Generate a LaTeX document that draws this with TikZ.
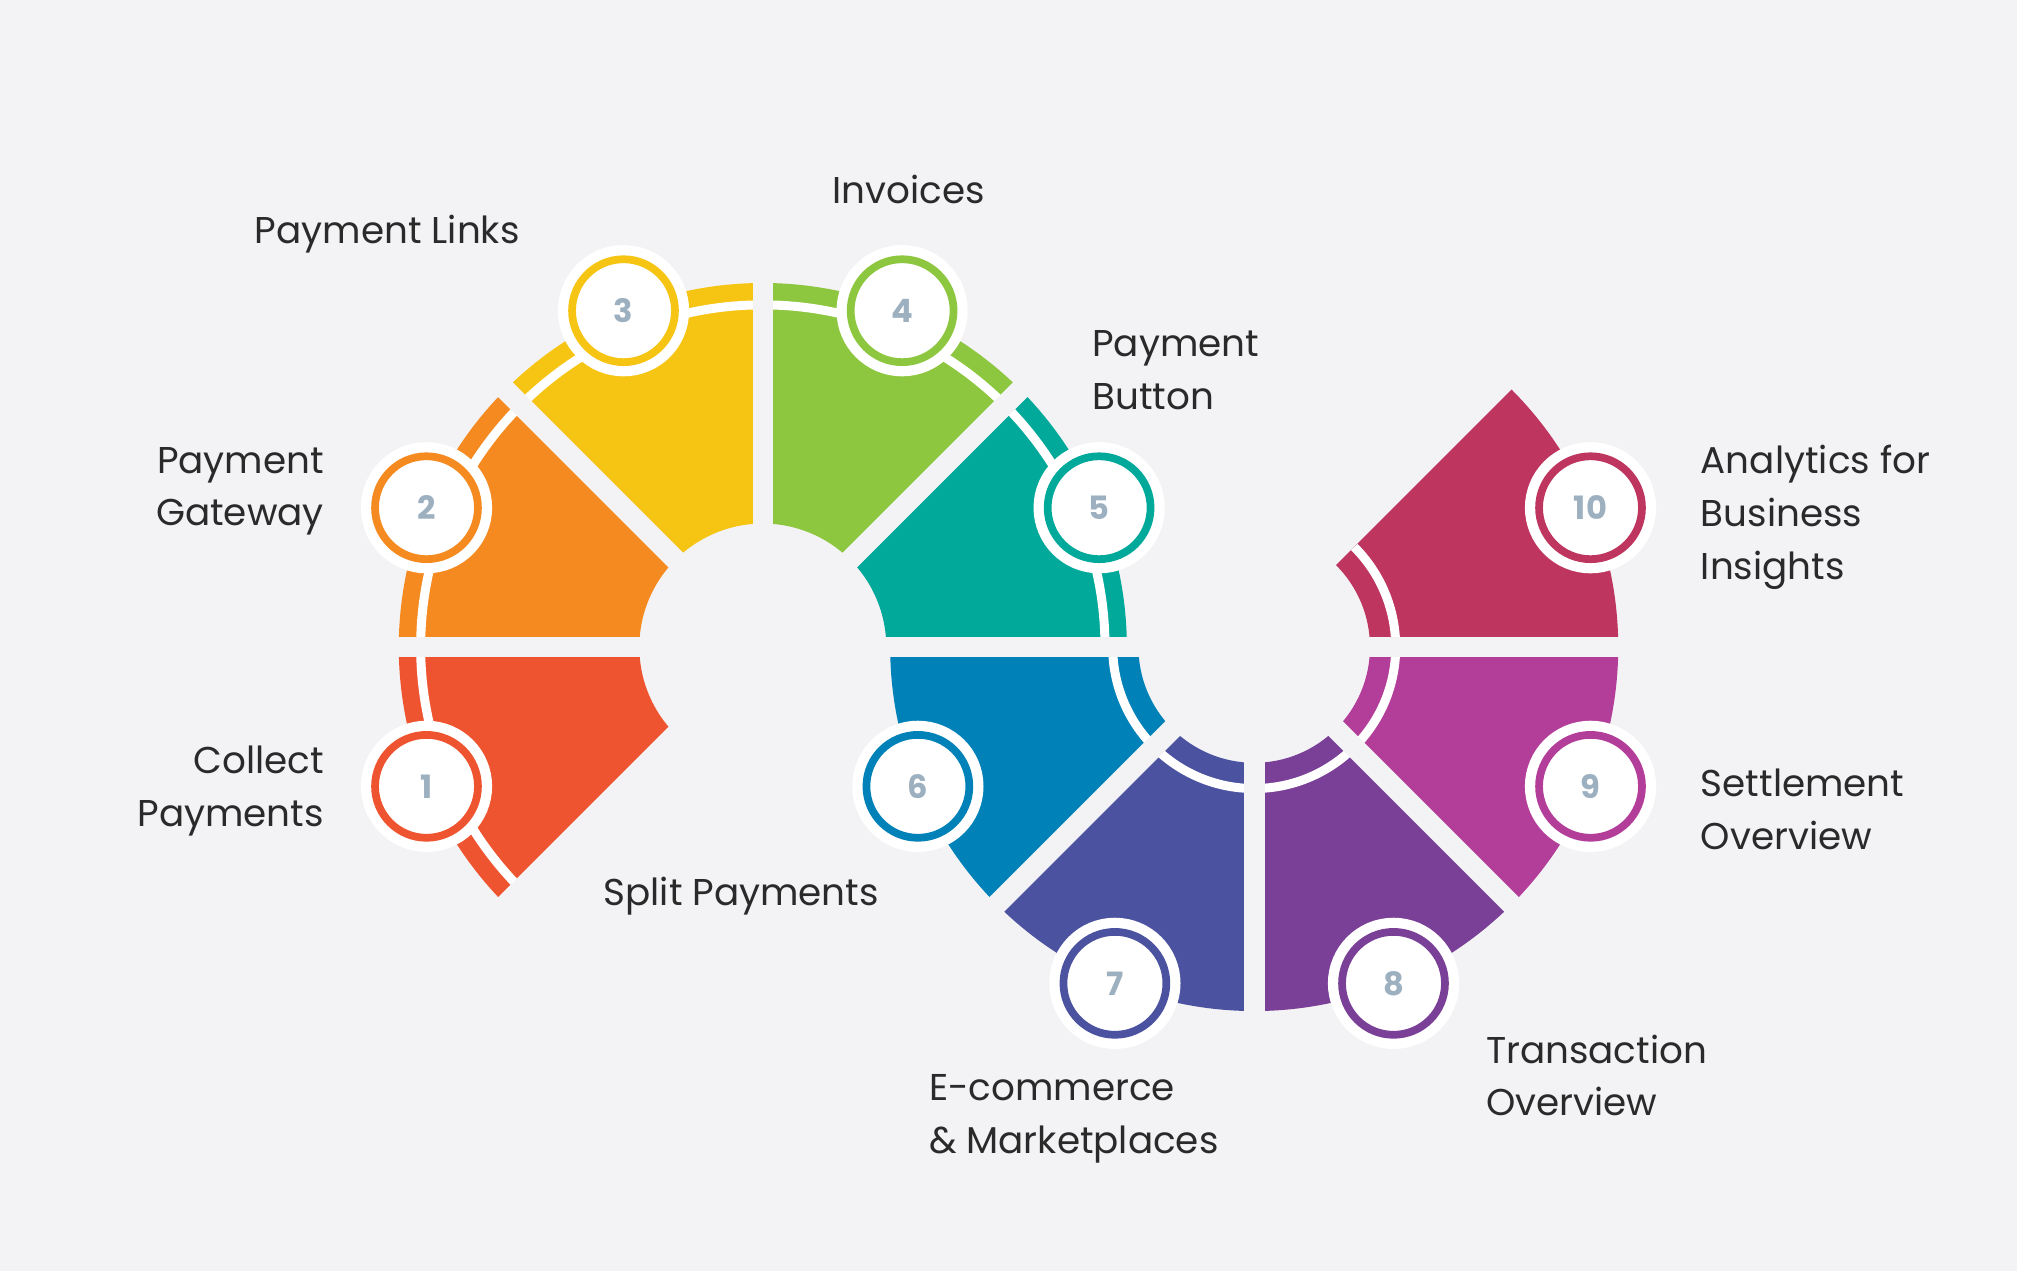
\documentclass[tikz,border=0pt]{standalone}
\usepackage{fontspec}
\setmainfont{Poppins}
\usetikzlibrary{calc}

\definecolor{bgcol}{HTML}{F3F3F5}
\definecolor{numcol}{HTML}{9DB0C0}
\definecolor{txtcol}{HTML}{2A2A2A}
\definecolor{cA}{HTML}{EF5430}
\definecolor{cB}{HTML}{F58A20}
\definecolor{cC}{HTML}{F6C514}
\definecolor{cD}{HTML}{8DC63F}
\definecolor{cE}{HTML}{00A99A}
\definecolor{cF}{HTML}{0081B8}
\definecolor{cG}{HTML}{4B53A0}
\definecolor{cH}{HTML}{7A3F96}
\definecolor{cI}{HTML}{B33E9A}
\definecolor{cJ}{HTML}{BE3560}

\tikzset{
  badge/.style={circle, minimum size=80pt, inner sep=0pt, fill=white, draw=#1,
    line width=6pt, preaction={draw=white, line width=22pt},
    text=numcol, font=\fontsize{25}{25}\selectfont\bfseries},
  label/.style={text=txtcol, inner sep=0pt, font=\fontsize{29}{41}\selectfont},
  gapline/.style={draw=bgcol, line width=16pt}
}

% annular sector: centre, start, end, inner, outer, colour
\newcommand{\sector}[6]{%
  \fill[#6] ($(#1)+(#2:#5)$) arc[start angle=#2, end angle=#3, radius=#5]
    -- ($(#1)+(#3:#4)$) arc[start angle=#3, end angle=#2, radius=#4] -- cycle;}

\begin{document}
\begin{tikzpicture}[x=1pt,y=1pt]
\useasboundingbox[fill=bgcol] (0,0) rectangle (1568,988);

% Centres
\coordinate (cL) at (593,485);
\coordinate (cR) at (975,485);

% Left ring
\sector{cL}{180}{225}{96}{283}{cA}
\sector{cL}{135}{180}{96}{283}{cB}
\sector{cL}{90}{135}{96}{283}{cC}
\sector{cL}{45}{90}{96}{283}{cD}
\sector{cL}{0}{45}{96}{283}{cE}
\draw[white, line width=7pt] ($(cL)+(0:266)$) arc[start angle=0, end angle=225, radius=266];

% Right ring
\sector{cR}{180}{225}{90}{283}{cF}
\sector{cR}{225}{270}{90}{283}{cG}
\sector{cR}{270}{315}{90}{283}{cH}
\sector{cR}{315}{360}{90}{283}{cI}
\sector{cR}{0}{45}{90}{283}{cJ}
\draw[white, line width=7pt] ($(cR)+(-180:110)$) arc[start angle=-180, end angle=45, radius=110];

% Gaps
\draw[gapline] (300,485) -- (1275,485);
\foreach \a in {45,90,135,225}
  \draw[gapline] (cL) -- ++(\a:300);
\foreach \a in {225,270,315}
  \draw[gapline] (cR) -- ++(\a:300);

% Badges
\node[badge=cA] (b1) at ($(cL)+(202.5:283)$) {1};
\node[badge=cB] (b2) at ($(cL)+(157.5:283)$) {2};
\node[badge=cC] (b3) at ($(cL)+(112.5:283)$) {3};
\node[badge=cD] (b4) at ($(cL)+(67.5:283)$) {4};
\node[badge=cE] (b5) at ($(cL)+(22.5:283)$) {5};
\node[badge=cF] (b6) at ($(cR)+(202.5:283)$) {6};
\node[badge=cG] (b7) at ($(cR)+(247.5:283)$) {7};
\node[badge=cH] (b8) at ($(cR)+(292.5:283)$) {8};
\node[badge=cI] (b9) at ($(cR)+(337.5:283)$) {9};
\node[badge=cJ] (b10) at ($(cR)+(22.5:283)$) {10};

% Labels
\node[label, anchor=east, align=right] (t1) at (252,373) {Collect\\Payments};
\node[label, anchor=east, align=right] (t2) at (252,606) {Payment\\Gateway};
\node[label, anchor=west] (t3) at (198,806) {Payment Links};
\node[label, anchor=west] (t4) at (647,841) {Invoices};
\node[label, anchor=west, align=left] (t5) at (849,700) {Payment\\Button};
\node[label, anchor=west] (t6) at (469,291) {Split Payments};
\node[label, anchor=west, align=left] (t7) at (722,118) {E-commerce\\\& Marketplaces};
\node[label, anchor=west, align=left] (t8) at (1155,152) {Transaction\\Overview};
\node[label, anchor=west, align=left] (t9) at (1322,359) {Settlement\\Overview};
\node[label, anchor=west, align=left] (t10) at (1322,586) {Analytics for\\Business\\Insights};
\end{tikzpicture}
\end{document}
